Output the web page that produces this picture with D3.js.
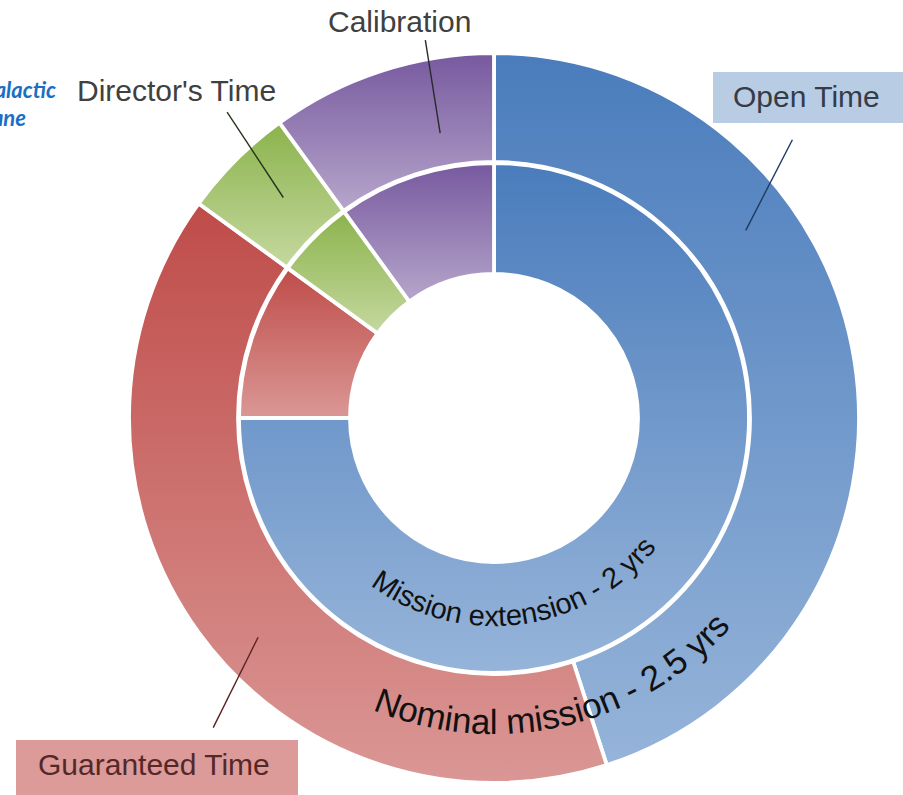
<!DOCTYPE html>
<html>
<head>
<meta charset="utf-8">
<script src="https://cdn.jsdelivr.net/npm/d3@7"></script>
<style>
    body { margin: 0; background: #fff; }
    svg { display: block; font-family: "Liberation Sans", Arial, sans-serif; }
</style>
</head>
<body>
<svg id="chart" width="903" height="795"></svg>
<script>
// time shares (%) per category
const categories = ["Open Time", "Guaranteed Time", "Director's Time", "Calibration"];
const nominalShares = [45, 40, 5, 10];     // outer ring
const extensionShares = [75, 10, 5, 10];   // inner ring
const ringTitles = ["Nominal mission - 2.5 yrs", "Mission extension - 2 yrs"];

// gradient colours, top -> bottom of each slice
const colorTop = ["#4a7cbc", "#bf4c49", "#8bb34c", "#77599f"];
const colorBottom = ["#96b4d9", "#da9795", "#c5d89f", "#b6a6cb"];

const width = 903, height = 795;
const cx = 494, cy = 418;

let svg = d3.select('#chart');

// one vertical gradient per category, stretched over each slice's box
let defs = svg.append('defs');
categories.forEach((cat, i) => {
    let grad = defs.append('linearGradient')
        .attr('id', 'grad' + i)
        .attr('x1', 0).attr('y1', 0)
        .attr('x2', 0).attr('y2', 1);
    grad.append('stop').attr('offset', '0%').attr('stop-color', colorTop[i]);
    grad.append('stop').attr('offset', '100%').attr('stop-color', colorBottom[i]);
});

let g = svg.append('g').attr('transform', `translate(${cx}, ${cy})`);

let pie = d3.pie().sort(null).value(d => d);

let rings = [
    {shares: nominalShares, inner: 256, outer: 365},
    {shares: extensionShares, inner: 144, outer: 255}
];

rings.forEach(ring => {
    let arc = d3.arc().innerRadius(ring.inner).outerRadius(ring.outer);
    g.append('g')
        .selectAll('path')
        .data(pie(ring.shares))
        .join('path')
        .attr('d', arc)
        .attr('fill', (d, i) => `url(#grad${i})`)
        .attr('stroke', '#fff')
        .attr('stroke-width', 3.8)
        .attr('stroke-linejoin', 'miter');
});

// angle in degrees, clockwise from 12 o'clock (same as d3.arc)
function polar(deg, r) {
    let a = deg * Math.PI / 180;
    return [r * Math.sin(a), -r * Math.cos(a)];
}

// curved ring titles along the bottom of each ring
let titleLayout = [
    {r: 316, center: 167, size: 35},
    {r: 208, center: 172.5, size: 29}
];
const arcFrom = 260, arcTo = 100;
ringTitles.forEach((title, i) => {
    let lay = titleLayout[i];
    let p0 = polar(arcFrom, lay.r), p1 = polar(arcTo, lay.r);
    defs.append('path')
        .attr('id', 'titlePath' + i)
        .attr('d', `M${p0[0]},${p0[1]} A${lay.r},${lay.r} 0 0 0 ${p1[0]},${p1[1]}`);
    g.append('text')
        .attr('font-size', lay.size)
        .attr('fill', '#111')
        .append('textPath')
        .attr('href', '#titlePath' + i)
        .attr('startOffset', ((arcFrom - lay.center) / (arcFrom - arcTo) * 100) + '%')
        .attr('text-anchor', 'middle')
        .text(title);
});

// category callouts: leader line given in polar form, text in page px
let callouts = [
    {from: [47, 408], to: [53.3, 314], stroke: '#1f3a62', x: 733, y: 107, color: '#353c47',
        box: {x: 713, y: 72, w: 195, h: 51, fill: '#b8cce4'}},
    {from: [222.2, 418], to: [227.1, 322], stroke: '#5a2222', x: 38, y: 775, color: '#552828',
        box: {x: 16, y: 740, w: 282, h: 60, fill: '#dc9a99'}},
    {from: [318.9, 406], to: [316.3, 305], stroke: '#26331a', x: 77, y: 101, color: '#404040'},
    {from: [349.7, 384], to: [349.3, 290], stroke: '#2a2a2a', x: 328, y: 32, color: '#404040'}
];

callouts.forEach((c, i) => {
    let a = polar(c.from[0], c.from[1]), b = polar(c.to[0], c.to[1]);
    g.append('line')
        .attr('x1', a[0]).attr('y1', a[1])
        .attr('x2', b[0]).attr('y2', b[1])
        .attr('stroke', c.stroke)
        .attr('stroke-width', 1.4);
    if (c.box) {
        svg.append('rect')
            .attr('x', c.box.x).attr('y', c.box.y)
            .attr('width', c.box.w).attr('height', c.box.h)
            .attr('fill', c.box.fill);
    }
    svg.append('text')
        .attr('x', c.x).attr('y', c.y)
        .attr('font-size', 30)
        .attr('fill', c.color)
        .text(categories[i]);
});

// caption cropped by the left edge of the slide, as in the original
let side = svg.append('g')
    .attr('font-family', 'Lato, "Open Sans", sans-serif')
    .attr('font-weight', 'bold')
    .attr('font-style', 'italic')
    .attr('font-size', 22)
    .attr('fill', '#1a6fc4')
    .attr('text-anchor', 'end');
side.append('text').attr('x', 56).attr('y', 98).text('Galactic');
side.append('text').attr('x', 26).attr('y', 126).text('Plane');
</script>
</body>
</html>
